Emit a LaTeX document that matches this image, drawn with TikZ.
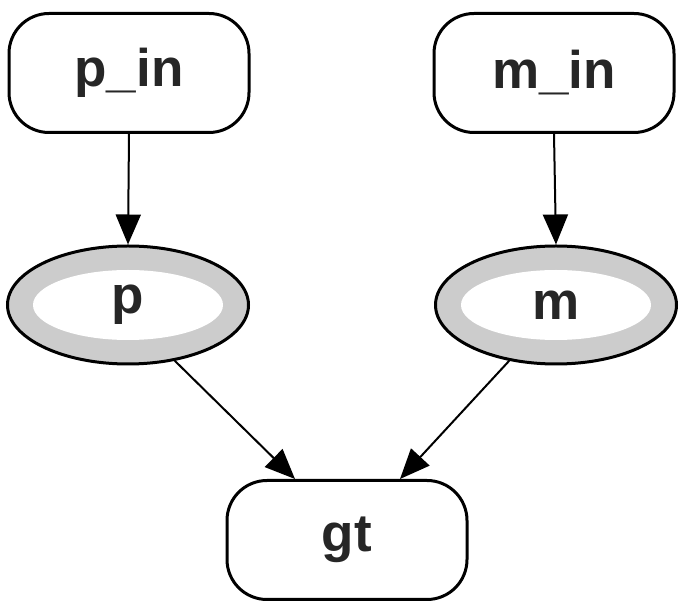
\documentclass[tikz,border=0pt]{standalone}
\usepackage{fontspec}
\setmainfont{Liberation Sans}
\usetikzlibrary{shapes.geometric,arrows.meta,calc}
\definecolor{ringgray}{RGB}{204,204,204}
\begin{document}
\begin{tikzpicture}[x=1pt,y=-1pt,
  every node/.style={font=\fontsize{53}{60}\selectfont\bfseries, text=black!85},
  boxnode/.style={draw=black, line width=3pt, rounded corners=40pt, minimum width=240pt, minimum height=119pt, inner sep=0pt},
  ringnode/.style={ellipse, draw=black, line width=3pt, fill=ringgray, minimum width=241pt, minimum height=118pt, inner sep=0pt,
    path picture={\fill[white] (path picture bounding box.center) ellipse (95pt and 35pt);}},
  edge/.style={line width=2pt, -{Triangle[length=30pt,width=25pt]}}
]
\useasboundingbox (0,0) rectangle (689,609);
\node[boxnode] (pin) at (129,73) {p\_in};
\node[boxnode] (min) at (554,73) {m\_in};
\node[ringnode] (p) at (128,305) {p};
\node[ringnode] (m) at (556,305) {m};
\node[boxnode] (gt) at (347,540) {gt};
\draw[edge] (pin.south) -- (p.north);
\draw[edge] (min.south) -- (m.north);
\draw[edge] (p.-50) -- ($(gt.north)+(-52,0)$);
\draw[edge] (m.-130) -- ($(gt.north)+(53,0)$);
\end{tikzpicture}
\end{document}
